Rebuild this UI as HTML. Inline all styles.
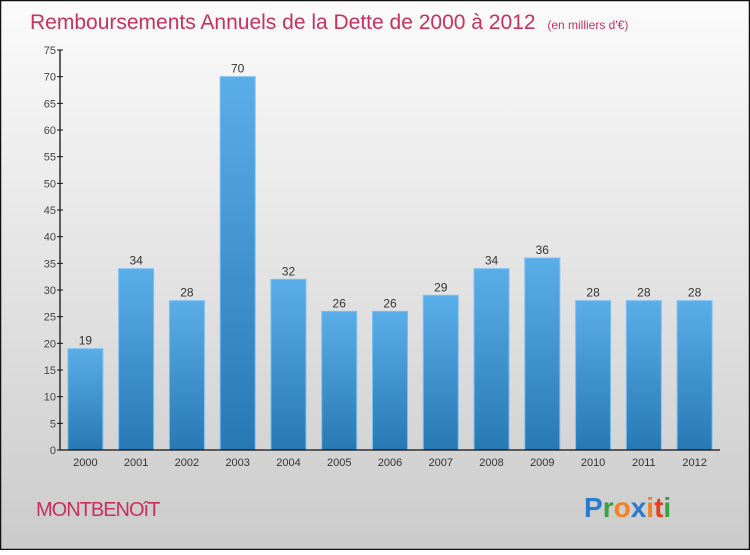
<!DOCTYPE html>
<html><head><meta charset="utf-8"><style>
html,body{margin:0;padding:0}
body{width:750px;height:550px;overflow:hidden;font-family:"Liberation Sans",sans-serif}
</style></head><body>
<svg width="750" height="550" viewBox="0 0 750 550" xmlns="http://www.w3.org/2000/svg">
<defs>
<linearGradient id="bg" x1="0" y1="0" x2="0" y2="1"><stop offset="0" stop-color="#fbfbfb"/><stop offset="1" stop-color="#cbcbcb"/></linearGradient>
<linearGradient id="bar" x1="0" y1="0" x2="0" y2="1"><stop offset="0" stop-color="#5aaee8"/><stop offset="1" stop-color="#2878b4"/></linearGradient>
</defs>
<rect x="0.5" y="0.5" width="749" height="549" fill="url(#bg)" stroke="#111" stroke-width="1.5"/>
<text x="30" y="29" font-size="21" fill="#c8305f">Remboursements Annuels de la Dette de 2000 à 2012 <tspan font-size="12" dx="6">(en milliers d'€)</tspan></text>
<g id="yaxis"></g>
<g id="bars"></g>
<g id="xaxis"></g>
<text x="36" y="516" font-size="20" fill="#c8305f" letter-spacing="-1">MONTBENOîT</text>
<g font-size="28" font-weight="bold" font-family="Liberation Sans, sans-serif">
<text x="584" y="517"><tspan fill="#2a7ad0">P</tspan><tspan fill="#3aa040">r</tspan><tspan fill="#f08020">o</tspan><tspan fill="#2a7ad0">x</tspan><tspan fill="#f08020">i</tspan><tspan fill="#e04020">t</tspan><tspan fill="#3aa040">i</tspan></text>
</g>
</svg>
<script>
const categories=["2000","2001","2002","2003","2004","2005","2006","2007","2008","2009","2010","2011","2012"];
const values=[19,34,28,70,32,26,26,29,34,36,28,28,28];
const yTicks=[0,5,10,15,20,25,30,35,40,45,50,55,60,65,70,75];
const NS="http://www.w3.org/2000/svg";
const y0=450,yTop=50,yMax=75,x0=60,x1=720;
const y=v=>y0-(v/yMax)*(y0-yTop);
const step=(x1-x0)/categories.length;
const bw=35;
const xc=i=>x0+step*(i+0.5);
function mk(t,a,p){const e=document.createElementNS(NS,t);for(const k in a)e.setAttribute(k,a[k]);p.appendChild(e);return e;}
const ya=document.getElementById('yaxis'),ba=document.getElementById('bars'),xa=document.getElementById('xaxis');
const yl=mk('line',{x1:x0,y1:y(yMax),x2:x0,y2:y0,stroke:'#111','stroke-width':1.3},ya);


yTicks.forEach(t=>{
 const tk=mk('line',{x1:x0-3,y1:y(t),x2:x0+3,y2:y(t),stroke:'#111'},ya);
 
 
 const l=mk('text',{x:x0-4,y:y(t)+4,'text-anchor':'end','font-size':11,fill:'#444'},ya);
 l.textContent=t;
 
 
});
const xl=mk('line',{x1:x0,y1:y0,x2:x1,y2:y0,stroke:'#111','stroke-width':1.3},xa);


categories.forEach((c,i)=>{
 const v=values[i];
 const r=mk('rect',{x:xc(i)-bw/2,y:y(v),width:bw,height:y0-y(v),fill:'url(#bar)',stroke:'#7cc0f0','stroke-width':1},ba);
 
 
 const vl=mk('text',{x:xc(i),y:y(v)-4,'text-anchor':'middle','font-size':12,fill:'#333'},ba);
 vl.textContent=v;
 
 
 const tl=mk('text',{x:xc(i),y:y0+16,'text-anchor':'middle','font-size':11,fill:'#333'},xa);
 tl.textContent=c;
 
 
});
</script>
</body></html>
